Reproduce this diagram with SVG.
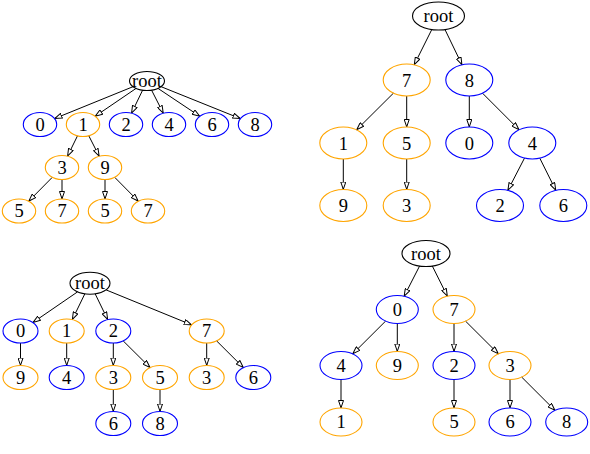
<svg xmlns="http://www.w3.org/2000/svg" width="590" height="454" viewBox="0 0 590 454">
<defs>
<marker id="ah" viewBox="0 0 8 6" refX="8" refY="3" markerWidth="8" markerHeight="6" markerUnits="userSpaceOnUse" orient="auto">
<path d="M0.5,0.5 L7.8,3 L0.5,5.5 Z" fill="#ffffff" stroke="#000000" stroke-width="1"/>
</marker>
<style>
.e{fill:none;stroke:#000000;stroke-width:1;marker-end:url(#ah)}
.n ellipse{fill:none;stroke-width:1.1}
.k ellipse{stroke:#000000}
.b ellipse{stroke:#0000ff}
.o ellipse{stroke:#ffa500}
text{font-family:"Liberation Serif","Times New Roman",serif;font-size:18.5px;fill:#000000;text-anchor:middle}
</style>
</defs>
<rect width="590" height="454" fill="#ffffff"/>
<g id="connectors">
<line class="e" x1="133" y1="86.7" x2="54.5" y2="118.6"/>
<line class="e" x1="136.1" y1="88.4" x2="95.1" y2="116.3"/>
<line class="e" x1="142.6" y1="90.2" x2="131.5" y2="113.2"/>
<line class="e" x1="151.6" y1="90.2" x2="163.3" y2="113.2"/>
<line class="e" x1="158" y1="88.4" x2="199.8" y2="116.3"/>
<line class="e" x1="161.1" y1="86.7" x2="240.4" y2="118.6"/>
<line class="e" x1="77.5" y1="135.8" x2="67.5" y2="156.2"/>
<line class="e" x1="88.8" y1="135.8" x2="99.2" y2="156.2"/>
<line class="e" x1="52.3" y1="177.3" x2="28.7" y2="201.2"/>
<line class="e" x1="62" y1="179.5" x2="62" y2="199"/>
<line class="e" x1="105" y1="179.5" x2="105" y2="199"/>
<line class="e" x1="114.7" y1="177.3" x2="138.3" y2="201.2"/>
<line class="e" x1="431.8" y1="29.5" x2="414.2" y2="64.8"/>
<line class="e" x1="445" y1="29.6" x2="462" y2="64.8"/>
<line class="e" x1="393.4" y1="93.2" x2="356.6" y2="129.8"/>
<line class="e" x1="406.7" y1="96" x2="406.7" y2="127"/>
<line class="e" x1="469.3" y1="96" x2="469.3" y2="127"/>
<line class="e" x1="482.5" y1="93.2" x2="519.1" y2="129.8"/>
<line class="e" x1="343.3" y1="159" x2="343.3" y2="189.5"/>
<line class="e" x1="406.7" y1="159" x2="406.7" y2="189.5"/>
<line class="e" x1="524.5" y1="158.1" x2="507.8" y2="190.4"/>
<line class="e" x1="539.8" y1="158.2" x2="555.8" y2="190.3"/>
<line class="e" x1="77.5" y1="291.9" x2="32.9" y2="322.5"/>
<line class="e" x1="84.8" y1="293.9" x2="72.3" y2="319.6"/>
<line class="e" x1="95.2" y1="293.9" x2="107.7" y2="319.6"/>
<line class="e" x1="106.1" y1="289.9" x2="191.7" y2="324.9"/>
<line class="e" x1="20.5" y1="343" x2="20.5" y2="365.5"/>
<line class="e" x1="66.7" y1="343" x2="66.7" y2="365.5"/>
<line class="e" x1="113.3" y1="343" x2="113.3" y2="365.5"/>
<line class="e" x1="123.2" y1="340.9" x2="150.1" y2="367.6"/>
<line class="e" x1="206.7" y1="343" x2="206.7" y2="365.5"/>
<line class="e" x1="216.6" y1="340.9" x2="243.4" y2="367.6"/>
<line class="e" x1="113.3" y1="389.5" x2="113.3" y2="411.5"/>
<line class="e" x1="160" y1="389.5" x2="160" y2="411.5"/>
<line class="e" x1="419.6" y1="266" x2="404.1" y2="296.3"/>
<line class="e" x1="432.3" y1="266" x2="447.4" y2="296.2"/>
<line class="e" x1="385.6" y1="321.1" x2="352.7" y2="353.9"/>
<line class="e" x1="397.3" y1="323.5" x2="397.3" y2="351.5"/>
<line class="e" x1="454" y1="323.5" x2="454" y2="351.5"/>
<line class="e" x1="465.6" y1="321.2" x2="498.4" y2="353.9"/>
<line class="e" x1="341" y1="379.5" x2="341" y2="408"/>
<line class="e" x1="454" y1="379.5" x2="454" y2="408"/>
<line class="e" x1="510" y1="379.5" x2="510" y2="408"/>
<line class="e" x1="521.7" y1="377.1" x2="555" y2="410.4"/>
</g>
<g id="a_root" class="n k"><ellipse cx="147" cy="81" rx="17.5" ry="9.5"/><text x="147" y="87">root</text></g>
<g id="a_0" class="n b"><ellipse cx="40" cy="124.5" rx="16.7" ry="12"/><text x="40" y="130.5">0</text></g>
<g id="a_1" class="n o"><ellipse cx="83" cy="124.5" rx="16.7" ry="12"/><text x="83" y="130.5">1</text></g>
<g id="a_2" class="n b"><ellipse cx="126" cy="124.5" rx="16.7" ry="12"/><text x="126" y="130.5">2</text></g>
<g id="a_4" class="n b"><ellipse cx="169" cy="124.5" rx="16.7" ry="12"/><text x="169" y="130.5">4</text></g>
<g id="a_6" class="n b"><ellipse cx="212" cy="124.5" rx="16.7" ry="12"/><text x="212" y="130.5">6</text></g>
<g id="a_8" class="n b"><ellipse cx="255" cy="124.5" rx="16.7" ry="12"/><text x="255" y="130.5">8</text></g>
<g id="a_3" class="n o"><ellipse cx="62" cy="167.5" rx="16.7" ry="12"/><text x="62" y="173.5">3</text></g>
<g id="a_9" class="n o"><ellipse cx="105" cy="167.5" rx="16.7" ry="12"/><text x="105" y="173.5">9</text></g>
<g id="a_5a" class="n o"><ellipse cx="19" cy="211" rx="16.7" ry="12"/><text x="19" y="217">5</text></g>
<g id="a_7a" class="n o"><ellipse cx="62" cy="211" rx="16.7" ry="12"/><text x="62" y="217">7</text></g>
<g id="a_5b" class="n o"><ellipse cx="105" cy="211" rx="16.7" ry="12"/><text x="105" y="217">5</text></g>
<g id="a_7b" class="n o"><ellipse cx="148" cy="211" rx="16.7" ry="12"/><text x="148" y="217">7</text></g>
<g id="b_root" class="n k"><ellipse cx="438.5" cy="16" rx="26" ry="14"/><text x="438.5" y="22">root</text></g>
<g id="b_7" class="n o"><ellipse cx="406.7" cy="80" rx="23.5" ry="16"/><text x="406.7" y="86.5">7</text></g>
<g id="b_8" class="n b"><ellipse cx="469.3" cy="80" rx="23.5" ry="16"/><text x="469.3" y="86.5">8</text></g>
<g id="b_1" class="n o"><ellipse cx="343.3" cy="143" rx="23.5" ry="16"/><text x="343.3" y="149.5">1</text></g>
<g id="b_5" class="n o"><ellipse cx="406.7" cy="143" rx="23.5" ry="16"/><text x="406.7" y="149.5">5</text></g>
<g id="b_0" class="n b"><ellipse cx="469.3" cy="143" rx="23.5" ry="16"/><text x="469.3" y="149.5">0</text></g>
<g id="b_4" class="n b"><ellipse cx="532.3" cy="143" rx="23.5" ry="16"/><text x="532.3" y="149.5">4</text></g>
<g id="b_9" class="n o"><ellipse cx="343.3" cy="205.5" rx="23.5" ry="16"/><text x="343.3" y="212">9</text></g>
<g id="b_3" class="n o"><ellipse cx="406.7" cy="205.5" rx="23.5" ry="16"/><text x="406.7" y="212">3</text></g>
<g id="b_2" class="n b"><ellipse cx="500" cy="205.5" rx="23.5" ry="16"/><text x="500" y="212">2</text></g>
<g id="b_6" class="n b"><ellipse cx="563.3" cy="205.5" rx="23.5" ry="16"/><text x="563.3" y="212">6</text></g>
<g id="c_root" class="n k"><ellipse cx="90" cy="283.3" rx="20" ry="11"/><text x="90" y="289.3">root</text></g>
<g id="c_0" class="n b"><ellipse cx="20.5" cy="331" rx="17.5" ry="12"/><text x="20.5" y="337">0</text></g>
<g id="c_1" class="n o"><ellipse cx="66.7" cy="331" rx="17.5" ry="12"/><text x="66.7" y="337">1</text></g>
<g id="c_2" class="n b"><ellipse cx="113.3" cy="331" rx="17.5" ry="12"/><text x="113.3" y="337">2</text></g>
<g id="c_7" class="n o"><ellipse cx="206.7" cy="331" rx="17.5" ry="12"/><text x="206.7" y="337">7</text></g>
<g id="c_9" class="n o"><ellipse cx="20.5" cy="377.5" rx="17.5" ry="12"/><text x="20.5" y="383.5">9</text></g>
<g id="c_4" class="n b"><ellipse cx="66.7" cy="377.5" rx="17.5" ry="12"/><text x="66.7" y="383.5">4</text></g>
<g id="c_3a" class="n o"><ellipse cx="113.3" cy="377.5" rx="17.5" ry="12"/><text x="113.3" y="383.5">3</text></g>
<g id="c_5" class="n o"><ellipse cx="160" cy="377.5" rx="17.5" ry="12"/><text x="160" y="383.5">5</text></g>
<g id="c_3b" class="n o"><ellipse cx="206.7" cy="377.5" rx="17.5" ry="12"/><text x="206.7" y="383.5">3</text></g>
<g id="c_6a" class="n b"><ellipse cx="253.3" cy="377.5" rx="17.5" ry="12"/><text x="253.3" y="383.5">6</text></g>
<g id="c_6b" class="n b"><ellipse cx="113.3" cy="423.5" rx="17.5" ry="12"/><text x="113.3" y="429.5">6</text></g>
<g id="c_8" class="n b"><ellipse cx="160" cy="423.5" rx="17.5" ry="12"/><text x="160" y="429.5">8</text></g>
<g id="d_root" class="n k"><ellipse cx="426" cy="253.5" rx="24" ry="13"/><text x="426" y="259.5">root</text></g>
<g id="d_0" class="n b"><ellipse cx="397.3" cy="309.5" rx="21" ry="14"/><text x="397.3" y="315.5">0</text></g>
<g id="d_7" class="n o"><ellipse cx="454" cy="309.5" rx="21" ry="14"/><text x="454" y="315.5">7</text></g>
<g id="d_4" class="n b"><ellipse cx="341" cy="365.5" rx="21" ry="14"/><text x="341" y="371.5">4</text></g>
<g id="d_9" class="n o"><ellipse cx="397.3" cy="365.5" rx="21" ry="14"/><text x="397.3" y="371.5">9</text></g>
<g id="d_2" class="n b"><ellipse cx="454" cy="365.5" rx="21" ry="14"/><text x="454" y="371.5">2</text></g>
<g id="d_3" class="n o"><ellipse cx="510" cy="365.5" rx="21" ry="14"/><text x="510" y="371.5">3</text></g>
<g id="d_1" class="n o"><ellipse cx="341" cy="422" rx="21" ry="14"/><text x="341" y="428">1</text></g>
<g id="d_5" class="n o"><ellipse cx="454" cy="422" rx="21" ry="14"/><text x="454" y="428">5</text></g>
<g id="d_6" class="n b"><ellipse cx="510" cy="422" rx="21" ry="14"/><text x="510" y="428">6</text></g>
<g id="d_8" class="n b"><ellipse cx="566.7" cy="422" rx="21" ry="14"/><text x="566.7" y="428">8</text></g>
</svg>
